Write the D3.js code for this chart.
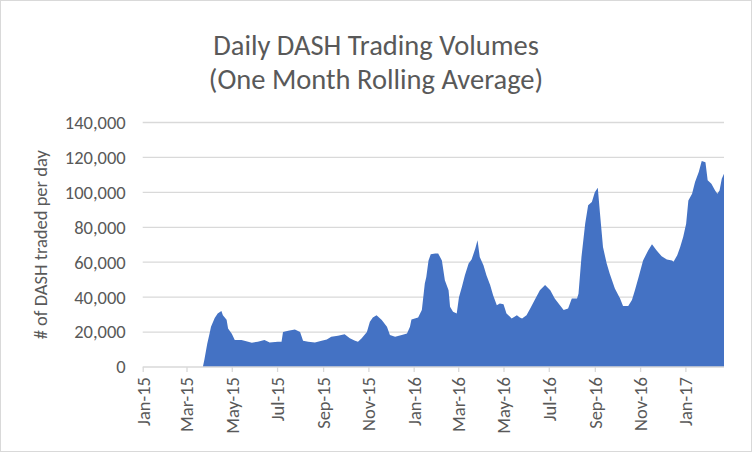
<!DOCTYPE html>
<html>
<head>
<meta charset="utf-8">
<script src="https://cdn.jsdelivr.net/npm/d3@7"></script>
<style>
  html, body { margin: 0; padding: 0; background: #fff; }
  svg { display: block; }
  text { font-family: Carlito, Calibri, Lato, sans-serif; fill: #595959; }
</style>
</head>
<body>
<svg id="chart" width="752" height="452"></svg>
<script>
// ---- data ----
const dates = [
  "2015-03-23","2015-03-25","2015-03-29","2015-04-01","2015-04-03","2015-04-08","2015-04-12","2015-04-17",
  "2015-04-19","2015-04-24","2015-04-26","2015-05-01","2015-05-05","2015-05-14","2015-05-18","2015-05-28",
  "2015-06-05","2015-06-14","2015-06-21","2015-07-02","2015-07-07","2015-07-09","2015-07-16","2015-07-25",
  "2015-08-01","2015-08-05","2015-08-12","2015-08-21","2015-08-30","2015-09-06","2015-09-12","2015-09-21",
  "2015-09-30","2015-10-07","2015-10-14","2015-10-18","2015-10-23","2015-10-30","2015-11-03","2015-11-07",
  "2015-11-12","2015-11-19","2015-11-26","2015-11-30","2015-12-07","2015-12-16","2015-12-23","2015-12-27",
  "2015-12-29","2016-01-07","2016-01-12","2016-01-16","2016-01-18","2016-01-21","2016-01-24","2016-01-30",
  "2016-02-03","2016-02-08","2016-02-12","2016-02-17","2016-02-19","2016-02-23","2016-02-28","2016-03-02",
  "2016-03-06","2016-03-10","2016-03-15","2016-03-19","2016-03-24","2016-03-27","2016-03-30","2016-04-04",
  "2016-04-08","2016-04-13","2016-04-17","2016-04-22","2016-04-26","2016-05-01","2016-05-05","2016-05-12",
  "2016-05-19","2016-05-23","2016-05-26","2016-06-01","2016-06-06","2016-06-12","2016-06-19","2016-06-26",
  "2016-07-03","2016-07-09","2016-07-16","2016-07-21","2016-07-27","2016-08-01","2016-08-08","2016-08-10",
  "2016-08-14","2016-08-19","2016-08-23","2016-08-28","2016-09-01","2016-09-05","2016-09-08","2016-09-12",
  "2016-09-17","2016-09-21","2016-09-28","2016-10-05","2016-10-09","2016-10-16","2016-10-21","2016-10-25",
  "2016-10-30","2016-11-05","2016-11-12","2016-11-17","2016-11-23","2016-11-30","2016-12-07","2016-12-14",
  "2016-12-16","2016-12-21","2016-12-25","2016-12-29","2017-01-02","2017-01-05","2017-01-10","2017-01-14",
  "2017-01-19","2017-01-23","2017-01-28","2017-01-31","2017-02-05","2017-02-10","2017-02-13","2017-02-16",
  "2017-02-19","2017-02-22"
];
const volumes = [
  0, 4000, 13500, 19000, 23000, 28000, 30700, 32000,
  29700, 27000, 22000, 19000, 15400, 15400, 15000, 13900,
  14500, 15400, 14000, 14500, 14500, 20000, 20800, 21500,
  20000, 15000, 14500, 14000, 15000, 15800, 17300, 17900,
  18700, 16400, 15000, 14500, 16400, 20000, 25900, 28400,
  29700, 26900, 23000, 18300, 17300, 18300, 19200, 23000,
  27200, 28400, 32600, 47800, 51600, 61000, 64600, 65000,
  65000, 61000, 49700, 44000, 34500, 31600, 30700, 40000,
  45900, 52600, 59200, 61500, 67800, 72600, 63000, 58300,
  52600, 46900, 41100, 35400, 36400, 36000, 30700, 27800,
  29700, 28400, 27800, 29700, 33500, 38300, 44000, 46900,
  44000, 39200, 35400, 32600, 33500, 39200, 39200, 42000,
  63000, 82000, 92600, 94500, 100000, 102700, 87800, 68700,
  59200, 53500, 45000, 39200, 34900, 34900, 38300, 44000,
  51600, 61000, 66900, 70300, 66900, 63400, 61500, 61000,
  60200, 64000, 68700, 74500, 82000, 95400, 99200, 105900,
  111600, 117900, 117300, 106900, 105000, 101000, 99200, 101000,
  107800, 110700
];
const yTicks = [0, 20000, 40000, 60000, 80000, 100000, 120000, 140000];
const xTickDates = ["2015-01-01","2015-03-01","2015-05-01","2015-07-01","2015-09-01","2015-11-01",
  "2016-01-01","2016-03-01","2016-05-01","2016-07-01","2016-09-01","2016-11-01","2017-01-01"];
const titleLines = ["Daily DASH Trading Volumes", "(One Month Rolling Average)"];
const yTitle = "# of DASH traded per day";

// ---- chart ----
const parse = d3.timeParse("%Y-%m-%d");
const data = dates.map((d, i) => ({ date: parse(d), value: volumes[i] }));
const FONT = "Carlito, Calibri, Lato, sans-serif";

const svg = d3.select("#chart");
const W = 752, H = 452;
const plot = { left: 142.7, right: 724, top: 122.5, bottom: 367 };

svg.append("rect").attr("x", 0.5).attr("y", 0.5).attr("width", W - 1).attr("height", H - 1)
  .attr("fill", "#fff").attr("stroke", "#d9d9d9").attr("stroke-width", 1);

const x = d3.scaleTime()
  .domain([parse("2015-01-01"), parse("2017-02-22")])
  .range([plot.left, plot.right]);
const y = d3.scaleLinear().domain([0, 140000]).range([plot.bottom, plot.top]);

// gridlines
svg.append("g").selectAll("line").data(yTicks.filter(v => v > 0)).join("line")
  .attr("x1", plot.left).attr("x2", plot.right)
  .attr("y1", d => y(d)).attr("y2", d => y(d))
  .attr("stroke", "#d9d9d9").attr("stroke-width", 1.3);

// area
const area = d3.area().x(d => x(d.date)).y0(y(0)).y1(d => y(d.value)).curve(d3.curveLinear);
svg.append("path").datum(data).attr("d", area).attr("fill", "#4472c4");

// y axis
const yAxis = d3.axisLeft(y).tickValues(yTicks).tickFormat(d3.format(",")).tickSize(0).tickPadding(0);
const gy = svg.append("g").attr("transform", `translate(${plot.left - 17},0)`).call(yAxis);
gy.select(".domain").remove();
gy.selectAll("text").style("font-size", "18.5px").attr("fill", "#595959")
  .style("font-family", FONT);

// x axis
const xAxis = d3.axisBottom(x).tickValues(xTickDates.map(parse))
  .tickFormat(d3.timeFormat("%b-%y")).tickSize(5).tickSizeOuter(0).tickPadding(4);
const gx = svg.append("g").attr("transform", `translate(0,${plot.bottom})`).call(xAxis);
gx.select(".domain").attr("stroke", "#d9d9d9").attr("stroke-width", 1.3)
  .attr("d", `M${plot.left},0H${plot.right}`);
gx.selectAll(".tick line").attr("stroke", "#d9d9d9").attr("stroke-width", 1.3);
gx.selectAll("text")
  .style("font-size", "18.5px").style("font-family", FONT)
  .attr("fill", "#595959")
  .attr("text-anchor", "end")
  .attr("dy", "0.35em")
  .attr("transform", "translate(0,10) rotate(-90)")
  .attr("x", 0).attr("y", 0);

// title
svg.append("g").selectAll("text").data(titleLines).join("text")
  .attr("x", 376).attr("y", (d, i) => 55 + i * 33.5)
  .attr("text-anchor", "middle")
  .style("font-size", "28.5px")
  .text(d => d);

// y title
svg.append("text")
  .attr("transform", `translate(47,${(plot.top + plot.bottom) / 2}) rotate(-90)`)
  .attr("text-anchor", "middle")
  .style("font-size", "18.5px")
  .text(yTitle);
</script>
</body>
</html>
